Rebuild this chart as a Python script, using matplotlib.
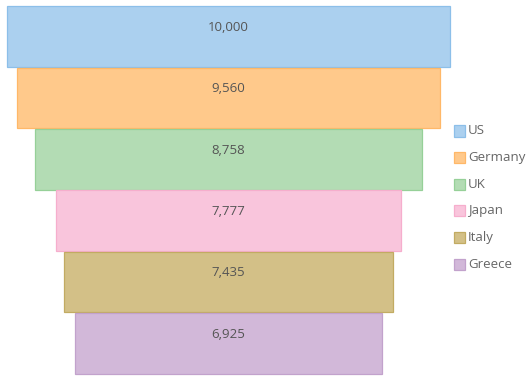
import matplotlib

matplotlib.use("Agg")
import matplotlib.pyplot as plt
from matplotlib.patches import Rectangle

plt.rcParams["font.family"] = ["Open Sans", "DejaVu Sans"]

countries = ["US", "Germany", "UK", "Japan", "Italy", "Greece"]
values = [10000, 9560, 8758, 7777, 7435, 6925]
fills = ["#abd0ef", "#ffc98b", "#b3dcb4", "#f9c5dc", "#d3c087", "#d2b8d9"]
edges = ["#8cbfe9", "#ffb868", "#96d098", "#f6aecd", "#c2ab62", "#c2a2cc"]

W, H = 532, 384
fig = plt.figure(figsize=(W / 100, H / 100), dpi=100)
fig.patch.set_facecolor("white")

# plot area in pixels: x 7..450, y 6..374
ax = fig.add_axes([7 / W, (H - 374) / H, 443 / W, 368 / H])
ax.set_xlim(-5000, 5000)
ax.set_ylim(len(values) - 0.5, -0.5)
ax.axis("off")

for i, (v, fc, ec) in enumerate(zip(values, fills, edges)):
    ax.barh(i, v, left=-v / 2, height=0.985, color=fc, edgecolor=ec,
            linewidth=0.9, clip_on=False)
    ax.text(0, i - 0.15, f"{v:,}", ha="center", va="center",
            fontsize=9.5, color="#555555")

# legend
for i, (name, fc, ec) in enumerate(zip(countries, fills, edges)):
    yc = 131 + i * 26.6
    fig.patches.append(Rectangle((454 / W, (H - yc - 5.5) / H), 11 / W, 11 / H,
                                 transform=fig.transFigure, facecolor=fc,
                                 edgecolor=ec, linewidth=0.9))
    fig.text(468 / W, (H - yc) / H, name, ha="left", va="center",
             fontsize=9.5, color="#666666")

fig.savefig("out.png", dpi=100, facecolor="white")
